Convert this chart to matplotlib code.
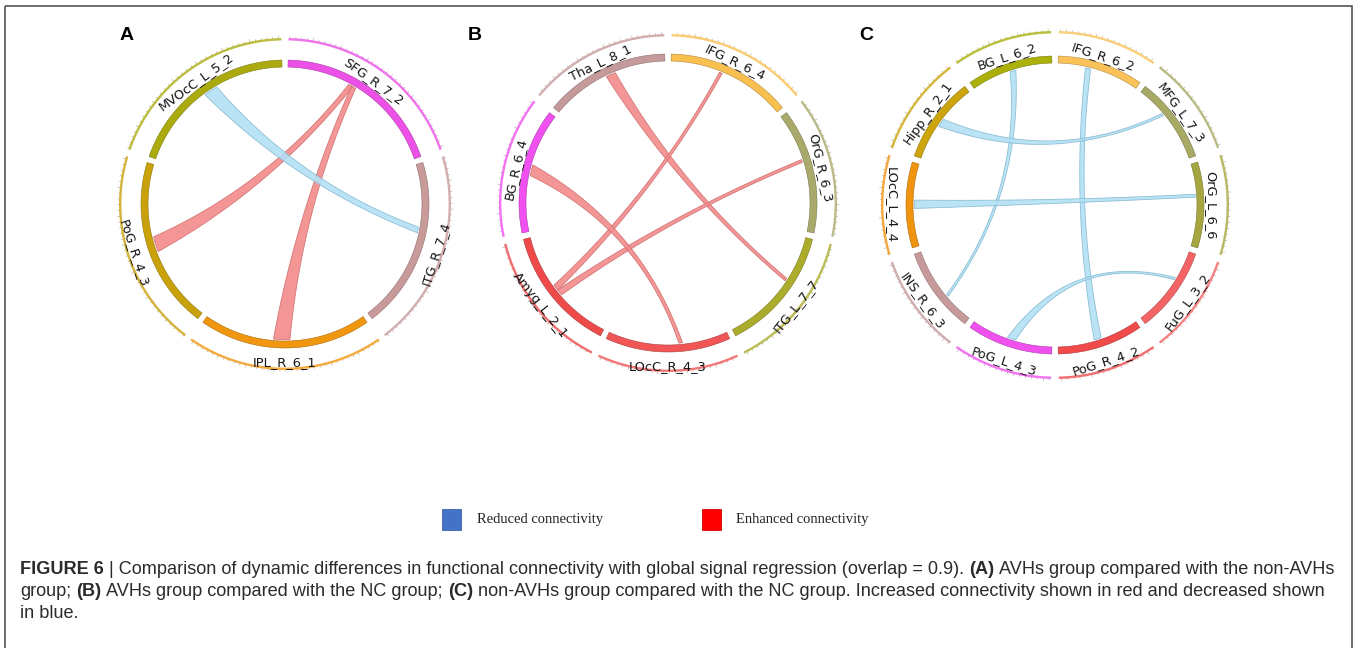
import numpy as np
import matplotlib
matplotlib.use("Agg")
import matplotlib.pyplot as plt
from matplotlib.patches import Polygon, Rectangle
from matplotlib import font_manager
from matplotlib.colors import to_rgb

# ---- data ----
# regions listed clockwise starting from the top of each circle
a_names = ["SFG_R_7_2", "ITG_R_7_4", "IPL_R_6_1", "PoG_R_4_3", "MVOcC_L_5_2"]
a_colors = ["#ec50e6", "#c99a9a", "#f0960f", "#c9a10b", "#abab10"]
# links: (region, position in region 0..1, width deg, region, position, width deg, kind)
a_links = [("MVOcC_L_5_2", 0.54, 6.0, "ITG_R_7_4", 0.40, 2.4, "reduced"),
           ("PoG_R_4_3", 0.51, 6.5, "SFG_R_7_2", 0.40, 2.0, "enhanced"),
           ("IPL_R_6_1", 0.52, 7.0, "SFG_R_7_2", 0.42, 2.0, "enhanced")]

b_names = ["IFG_R_6_4", "OrG_R_6_3", "ITG_L_7_7", "LOcC_R_4_3",
           "Amyg_L_2_1", "BG_R_6_4", "Tha_L_8_1"]
b_colors = ["#f9c050", "#aaa96c", "#abab2c", "#f05656",
            "#ee4a4a", "#f050f0", "#c59a9a"]
b_links = [("Tha_L_8_1", 0.535, 4.0, "ITG_L_7_7", 0.386, 1.2, "enhanced"),
           ("Amyg_L_2_1", 0.532, 2.5, "IFG_R_6_4", 0.426, 1.2, "enhanced"),
           ("Amyg_L_2_1", 0.481, 2.6, "OrG_R_6_3", 0.407, 1.2, "enhanced"),
           ("BG_R_6_4", 0.513, 4.5, "LOcC_R_4_3", 0.394, 1.5, "enhanced")]

c_names = ["IFG_R_6_2", "MFG_L_7_3", "OrG_L_6_6", "FuG_L_3_2", "PoG_R_4_2",
           "PoG_L_4_3", "INS_R_6_3", "LOcC_L_4_4", "Hipp_R_2_1", "BG_L_6_2"]
c_colors = ["#fbc25a", "#a9a966", "#a6a640", "#f56464", "#f04a4a",
            "#f050ee", "#c69a9a", "#f0940f", "#cca40b", "#abb00b"]
c_links = [("BG_L_6_2", 0.518, 2.4, "INS_R_6_3", 0.38, 1.0, "reduced"),
           ("PoG_R_4_2", 0.509, 3.0, "IFG_R_6_2", 0.369, 2.2, "reduced"),
           ("Hipp_R_2_1", 0.494, 3.5, "MFG_L_7_3", 0.38, 1.0, "reduced"),
           ("LOcC_L_4_4", 0.509, 3.4, "OrG_L_6_6", 0.387, 1.2, "reduced"),
           ("PoG_L_4_3", 0.50, 3.5, "FuG_L_3_2", 0.369, 1.0, "reduced")]

legend_labels = ["Reduced connectivity", "Enhanced connectivity"]
legend_colors = ["#4472c4", "#ff0000"]

caption_lines = [
    [("FIGURE 6", True), (" | Comparison of dynamic differences in functional connectivity with global signal regression (overlap = 0.9). ", False),
     ("(A)", True), (" AVHs group compared with the non-AVHs", False)],
    [("group; ", False), ("(B)", True), (" AVHs group compared with the NC group; ", False),
     ("(C)", True), (" non-AVHs group compared with the NC group. Increased connectivity shown in red and decreased shown", False)],
    [("in blue.", False)],
]

chord_fc = {"reduced": "#b3e1f5", "enhanced": "#f38b8b"}
chord_ec = {"reduced": "#86b9d1", "enhanced": "#d07070"}

W, H = 1357, 648
fig = plt.figure(figsize=(W / 100, H / 100), dpi=100)
ax = fig.add_axes([0, 0, 1, 1])
ax.set_xlim(0, W)
ax.set_ylim(H, 0)
ax.axis("off")

GAP = 2.5


def darker(c, f=0.72):
    r, g, b = to_rgb(c)
    return (r * f, g * f, b * f)


def arc(r, t1, t2, n=40):
    t = np.radians(np.linspace(t1, t2, n))
    return np.column_stack([r * np.cos(t), r * np.sin(t)])


def bez(p0, p2, k=0.45, n=60):
    c = k * (p0 + p2) / 2
    t = np.linspace(0, 1, n)[:, None]
    return (1 - t) ** 2 * p0 + 2 * (1 - t) * t * c + t ** 2 * p2


def to_xy(pts, cx, cy):
    return np.column_stack([cx + pts[:, 0], cy - pts[:, 1]])


def chord_diagram(cx, cy, r_in, r_out, names, colors, links, letter, lx):
    n = len(names)
    step = 360.0 / n
    span = step - GAP
    starts = {nm: 90 - GAP / 2 - i * step for i, nm in enumerate(names)}
    thick = 7
    for i, nm in enumerate(names):
        s = starts[nm]
        e = s - span
        col = colors[i]
        # inner band
        band = np.vstack([arc(r_in, e, s), arc(r_in - thick, s, e)])
        ax.add_patch(Polygon(to_xy(band, cx, cy), closed=True, fc=col,
                             ec=darker(col), lw=0.4))
        # outer thin band with small ticks
        ob = np.vstack([arc(r_out, e, s), arc(r_out - 2.4, s, e)])
        ax.add_patch(Polygon(to_xy(ob, cx, cy), closed=True, fc=col,
                             ec="none", alpha=0.8))
        for j, t in enumerate(np.arange(e + 1, s, 2.0)):
            ln = 2.2 if j % 5 == 0 else 1.2
            tr = np.radians(t)
            xs = cx + np.array([r_out, r_out + ln]) * np.cos(tr)
            ys = cy - np.array([r_out, r_out + ln]) * np.sin(tr)
            ax.plot(xs, ys, color=darker(col, 0.5), lw=0.4, alpha=0.5)
        # label
        mid = s - span / 2
        rot = mid - 90
        rot = (rot + 180) % 360 - 180
        flipped = rot < -90 or rot >= 90
        if rot < -90:
            rot += 180
        elif rot >= 90:
            rot -= 180
        rl = r_in + (15 if flipped else 7)
        tm = np.radians(mid)
        ax.text(cx + rl * np.cos(tm), cy - rl * np.sin(tm), nm, rotation=rot,
                rotation_mode="anchor", ha="center", va="center",
                fontsize=9.3, color="#151515", family="DejaVu Sans")

    rc = r_in - thick - 1.5
    for kind in ("enhanced", "reduced"):
        for (na, fa, wa, nb, fb, wb, kd) in links:
            if kd != kind:
                continue
            ca = starts[na] - fa * span
            cb = starts[nb] - fb * span
            a1, a2 = ca - wa / 2, ca + wa / 2
            b1, b2 = cb - wb / 2, cb + wb / 2
            pa = arc(rc, a1, a2, 20)
            pb = arc(rc, b1, b2, 20)
            pts = np.vstack([pa, bez(pa[-1], pb[0]), pb, bez(pb[-1], pa[0])])
            ax.add_patch(Polygon(to_xy(pts, cx, cy), closed=True,
                                 fc=chord_fc[kd], ec=chord_ec[kd], lw=0.6,
                                 alpha=0.9))
    ax.text(lx, 35, letter, fontsize=14, fontweight="bold",
            family="Liberation Sans", ha="center", va="center", color="black")


chord_diagram(285, 204, 144, 166, a_names, a_colors, a_links, "A", 127)
chord_diagram(668, 203, 149, 169, b_names, b_colors, b_links, "B", 475)
chord_diagram(1055, 205, 149, 174, c_names, c_colors, c_links, "C", 866)

# legend
for lab, col, x0, tx in zip(legend_labels, legend_colors, [442, 702], [477, 736]):
    ax.add_patch(Rectangle((x0, 509), 19, 21, fc=col, ec=darker(col, 0.85), lw=0.6))
    ax.text(tx, 519.5, lab, fontsize=10.5, family="Liberation Serif",
            ha="left", va="center", color="#222222")

# frame
ax.add_patch(Rectangle((5, 6), 1347, 700, fill=False, ec="#555555", lw=1.2))

# caption
avail = {f.name for f in font_manager.fontManager.ttflist}
cap_font = "Liberation Sans Narrow" if "Liberation Sans Narrow" in avail else "Liberation Sans"
fig.canvas.draw()
renderer = fig.canvas.get_renderer()


def text_w(s, size, bold):
    t = ax.text(0, 0, s, fontsize=size, family=cap_font,
                fontweight="bold" if bold else "normal")
    w = t.get_window_extent(renderer).width
    t.remove()
    return w


def piece_w(s, size, bold):
    core = s.strip()
    nsp = len(s) - len(s.lstrip()) + len(s) - len(s.rstrip())
    sp = text_w("x x", size, False) - text_w("xx", size, False)
    return (text_w(core, size, bold) if core else 0) + nsp * sp


base = 10.0
w1 = sum(piece_w(s, base, b) for s, b in caption_lines[0])
cap_size = base * 1317 / w1

for line, y in zip(caption_lines, [569, 592, 614]):
    x = 20
    sp = text_w("x x", cap_size, False) - text_w("xx", cap_size, False)
    for s, b in line:
        lead = len(s) - len(s.lstrip())
        x += lead * sp
        core = s.strip()
        ax.text(x, y, core, fontsize=cap_size, family=cap_font,
                fontweight="bold" if b else "normal", ha="left", va="center",
                color="#2b2b2b")
        x += piece_w(s.lstrip(), cap_size, b)

fig.savefig("out.png", dpi=100)
